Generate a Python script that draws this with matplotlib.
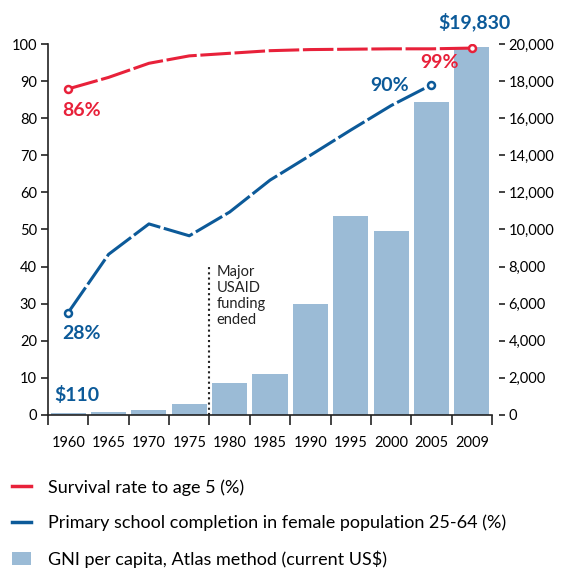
import matplotlib
matplotlib.use("Agg")
import matplotlib.pyplot as plt
from matplotlib.lines import Line2D
from matplotlib.patches import Patch

plt.rcParams["font.family"] = ["Lato", "DejaVu Sans"]

years = ["1960", "1965", "1970", "1975", "1980", "1985", "1990",
         "1995", "2000", "2005", "2009"]
gni = [110, 150, 280, 600, 1750, 2200, 6000, 10750, 9900, 16900, 19830]
survival = [87.9, 91.0, 94.8, 96.8, 97.5, 98.2, 98.5, 98.6, 98.7, 98.7, 98.9]
school = [27.6, 43.3, 51.5, 48.3, 54.7, 63.3, 70.0, 76.8, 83.4, 89.0]

RED = "#E8213A"
BLUE = "#0C5A99"
BAR = "#9BBBD6"
DARK = "#222222"

fig = plt.figure(figsize=(5.61, 5.70), dpi=100)
ax = fig.add_axes([0.0856, 0.272, 0.7914, 0.6508])
ax2 = ax.twinx()
ax.set_zorder(2)
ax.patch.set_visible(False)

x = list(range(len(years)))
ax2.bar(x, gni, width=0.87, color=BAR, zorder=1)
ax2.set_ylim(0, 20000)
ax2.set_yticks(range(0, 20001, 2000))
ax2.set_yticklabels([f"{v:,}" for v in range(0, 20001, 2000)])

dash = (10, 1.2)
ax.plot(x, survival, color=RED, lw=2.2, dashes=dash)
ax.plot(x[:len(school)], school, color=BLUE, lw=2.2, dashes=dash)
for xs, ys, c in [(x[0], survival[0], RED), (x[-1], survival[-1], RED),
                  (x[0], school[0], BLUE), (x[len(school) - 1], school[-1], BLUE)]:
    ax.plot(xs, ys, "o", ms=5, mfc="white", mec=c, mew=1.8, zorder=5)

ax.set_xlim(-0.5, 10.5)
ax.set_ylim(0, 100)
ax.set_yticks(range(0, 101, 10))

# ticks at category boundaries, labels at centres
ax.set_xticks([i - 0.5 for i in range(12)])
ax.set_xticklabels([])
ax.set_xticks(x, minor=True)
ax.set_xticklabels(years, minor=True)
ax.tick_params(axis="x", which="minor", length=0, pad=15, labelsize=10.5)
ax.tick_params(axis="x", which="major", length=7, width=1.2, color=DARK, direction="out")
ax.tick_params(axis="y", length=5, width=1.2, color=DARK, labelsize=10.5, pad=3)
ax2.tick_params(axis="y", length=4, width=1.2, color=DARK, labelsize=10.5, pad=3)

for s in ["top", "right"]:
    ax.spines[s].set_visible(False)
for s in ["top", "left", "bottom"]:
    ax2.spines[s].set_visible(False)
ax2.spines["right"].set_position(("outward", 5))
ax2.spines["right"].set_visible(False)
ax.spines["left"].set_linewidth(1.2)
ax.spines["bottom"].set_linewidth(1.2)
ax.spines["left"].set_color(DARK)
ax.spines["bottom"].set_color(DARK)

# funding marker
ax.plot([3.5, 3.5], [0, 40], color=DARK, lw=1.5, ls=(0, (1, 1.5)))
ax.text(3.68, 40.5, "Major\nUSAID\nfunding\nended", fontsize=10.5, va="top",
        ha="left", linespacing=1.2, color=DARK)

bold = dict(fontsize=14, fontweight="bold")
ax.text(-0.15, 82.0, "86%", color=RED, ha="left", va="center", **bold)
ax.text(-0.15, 22.0, "28%", color=BLUE, ha="left", va="center", **bold)
ax.text(-0.35, 5.5, "$110", color=BLUE, ha="left", va="center", **bold)
ax.text(7.95, 88.8, "90%", color=BLUE, ha="center", va="center", **bold)
ax.text(9.2, 95.0, "99%", color=RED, ha="center", va="center", **bold)
ax.text(10.07, 106.0, "$19,830", color=BLUE, ha="center", va="center",
        clip_on=False, **bold)

handles = [
    Line2D([], [], color=RED, lw=2.5),
    Line2D([], [], color=BLUE, lw=2.5),
    Patch(facecolor=BAR, edgecolor="none"),
]
labels = [
    "Survival rate to age 5 (%)",
    "Primary school completion in female population 25-64 (%)",
    "GNI per capita, Atlas method (current US$)",
]
fig.legend(handles, labels, loc="upper left", bbox_to_anchor=(0.009, 0.172),
           frameon=False, fontsize=13, handlelength=1.05, handleheight=0.8,
           handletextpad=0.95, labelspacing=1.05, borderaxespad=0)

fig.savefig("out.png", dpi=100)
